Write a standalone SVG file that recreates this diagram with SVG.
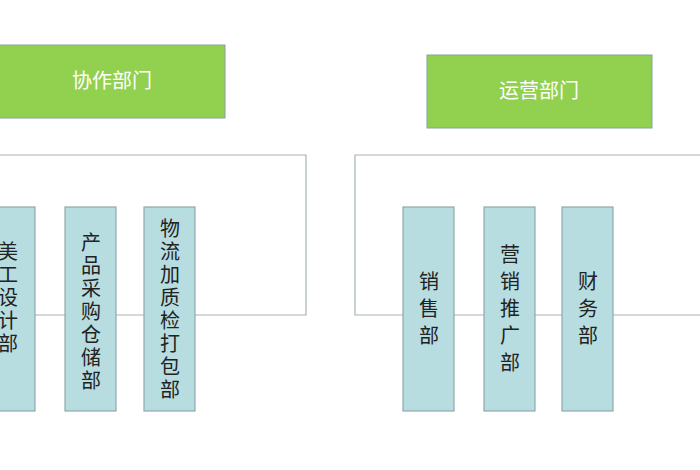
<svg xmlns="http://www.w3.org/2000/svg" width="700" height="470" viewBox="0 0 700 470">
<style>
.g{fill:#92d050;stroke:#8aa0a0;stroke-width:1}
.b{fill:#b7dde0;stroke:#8fa8aa;stroke-width:1.2}
.l{fill:none;stroke:#a8b4b4;stroke-width:1.2}
text{font-family:"Noto Sans CJK SC",sans-serif;font-size:20px;fill:#222;text-anchor:middle}
.w{fill:#fff}
</style>
<rect width="700" height="470" fill="#fff"/>
<g id="connectors">
<path class="l" d="M0 155H306V315H0"/>
<path class="l" d="M700 155H355V315H700"/>
</g>
<g id="n1"><rect class="g" x="-10" y="45" width="235" height="73"/><text class="w" x="112" y="88">协作部门</text></g>
<g id="n2"><rect class="g" x="427" y="55" width="225" height="73"/><text class="w" x="539" y="98">运营部门</text></g>
<g id="n3"><rect class="b" x="-18" y="207" width="53" height="204"/>
<text x="8" y="259">美</text><text x="8" y="282">工</text><text x="8" y="305">设</text><text x="8" y="328">计</text><text x="8" y="351">部</text></g>
<g id="n4"><rect class="b" x="65" y="207" width="51" height="204"/>
<text x="91" y="250">产</text><text x="91" y="273">品</text><text x="91" y="296">采</text><text x="91" y="319">购</text><text x="91" y="342">仓</text><text x="91" y="365">储</text><text x="91" y="388">部</text></g>
<g id="n5"><rect class="b" x="144" y="207" width="51" height="204"/>
<text x="170" y="236">物</text><text x="170" y="259">流</text><text x="170" y="282">加</text><text x="170" y="305">质</text><text x="170" y="328">检</text><text x="170" y="351">打</text><text x="170" y="374">包</text><text x="170" y="397">部</text></g>
<g id="n6"><rect class="b" x="403" y="207" width="51" height="204"/>
<text x="429" y="289">销</text><text x="429" y="316">售</text><text x="429" y="343">部</text></g>
<g id="n7"><rect class="b" x="484" y="207" width="51" height="204"/>
<text x="510" y="262">营</text><text x="510" y="289">销</text><text x="510" y="316">推</text><text x="510" y="343">广</text><text x="510" y="370">部</text></g>
<g id="n8"><rect class="b" x="562" y="207" width="51" height="204"/>
<text x="588" y="289">财</text><text x="588" y="316">务</text><text x="588" y="343">部</text></g>
</svg>
